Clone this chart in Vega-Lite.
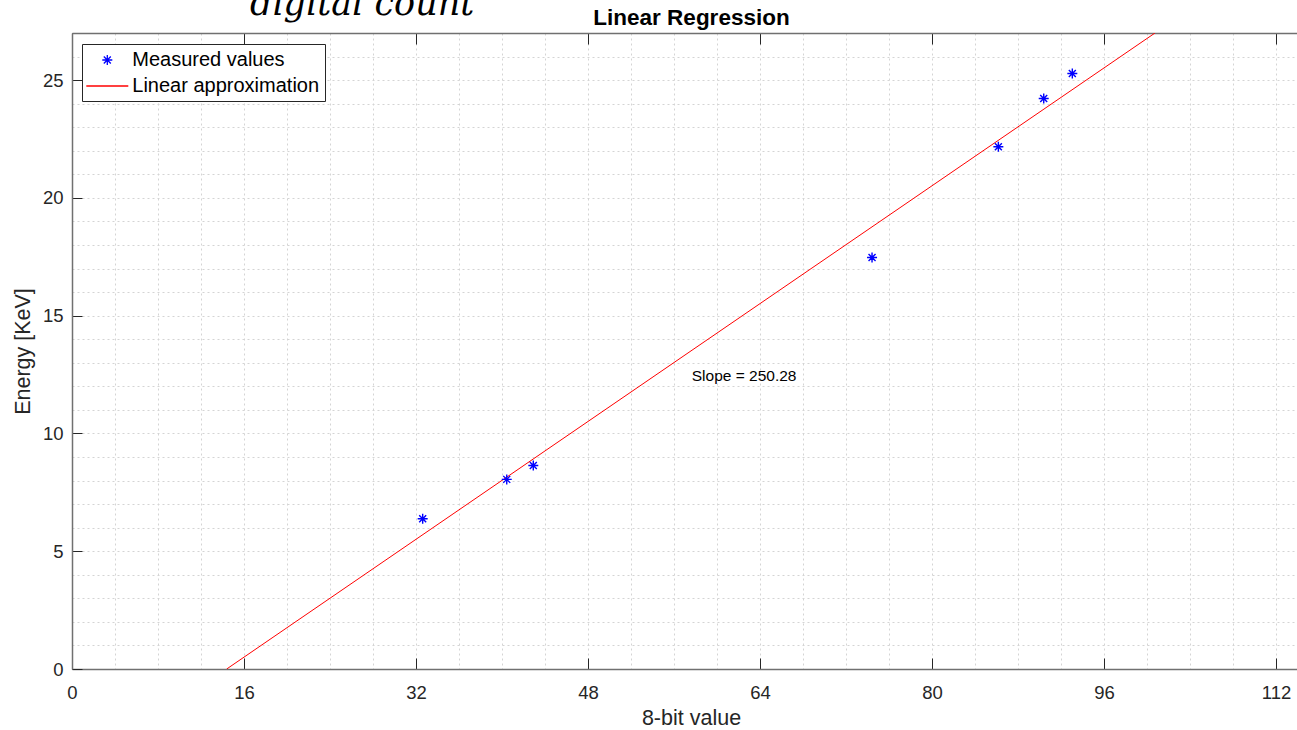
{
  "$schema": "https://vega.github.io/schema/vega-lite/v6.json",
  "width": 1225,
  "height": 636,
  "autosize": {"type": "none"},
  "padding": {"left": 72, "top": 33, "right": 0, "bottom": 61},
  "background": "white",
  "datasets": {
    "measured": [
      {"bits": 32.62, "energy": 6.38, "series": "Measured values"},
      {"bits": 40.44, "energy": 8.05, "series": "Measured values"},
      {"bits": 42.91, "energy": 8.64, "series": "Measured values"},
      {"bits": 74.42, "energy": 17.47, "series": "Measured values"},
      {"bits": 86.17, "energy": 22.17, "series": "Measured values"},
      {"bits": 90.39, "energy": 24.22, "series": "Measured values"},
      {"bits": 93.05, "energy": 25.28, "series": "Measured values"}
    ],
    "fit": [
      {"bits": 14.39, "energy": 0, "series": "Linear approximation"},
      {"bits": 100.74, "energy": 27, "series": "Linear approximation"}
    ],
    "annotation": [{"bits": 57.65, "energy": 12.23, "text": "Slope = 250.28"}],
    "header": [{"bits": 16.56, "energy": 27.77, "text": "digital count"}]
  },
  "encoding": {
    "y": {
      "field": "energy", "type": "quantitative",
      "scale": {"domain": [0, 27], "nice": false, "zero": false},
      "axis": {
        "orient": "left",
        "title": "Energy [KeV]",
        "values": [0,1,2,3,4,5,6,7,8,9,10,11,12,13,14,15,16,17,18,19,20,21,22,23,24,25,26,27],
        "labelExpr": "datum.value % 5 === 0 ? datum.label : ''",
        "labelOverlap": false,
        "labelFlush": false,
        "labelFontSize": 18.5,
        "labelColor": "#262626",
        "labelFont": "Liberation Sans",
        "labelPadding": 19,
        "tickSize": -10,
        "tickWidth": 1,
        "tickColor": {"condition": {"test": "datum.value % 5 === 0", "value": "#262626"}, "value": "transparent"},
        "grid": true,
        "gridColor": "#d4d4d4",
        "gridDash": [2, 3],
        "gridWidth": 1,
        "domainColor": "#707070",
        "domainWidth": 1.5,
        "titleFontSize": 21.5,
        "titleFontWeight": "normal",
        "titleFont": "Liberation Sans",
        "titleColor": "#262626",
        "titlePadding": 8
      }
    }
  },
  "layer": [
    {
      "data": {"name": "fit"},
      "mark": {"type": "line", "strokeWidth": 1, "clip": true},
      "encoding": {
        "x": {
          "field": "bits", "type": "quantitative",
          "scale": {"domain": [0, 113.95], "nice": false, "zero": false},
          "axis": {
            "orient": "bottom",
            "title": "8-bit value",
            "values": [0,4,8,12,16,20,24,28,32,36,40,44,48,52,56,60,64,68,72,76,80,84,88,92,96,100,104,108,112],
            "labelExpr": "datum.value % 16 === 0 ? datum.label : ''",
            "labelOverlap": false,
            "labelFlush": false,
            "labelFontSize": 18.5,
            "labelColor": "#262626",
            "labelFont": "Liberation Sans",
            "labelPadding": 25,
            "tickSize": -11,
            "tickWidth": 1,
            "tickColor": {"condition": {"test": "datum.value % 16 === 0", "value": "#262626"}, "value": "transparent"},
            "grid": true,
            "gridColor": "#d4d4d4",
            "gridDash": [2, 3],
            "gridWidth": 1,
            "domainColor": "#707070",
            "domainWidth": 1.5,
            "titleFontSize": 21.5,
            "titleFontWeight": "normal",
            "titleFont": "Liberation Sans",
            "titleColor": "#262626",
            "titlePadding": 6,
            "titleX": 619
          }
        },
        "color": {
          "field": "series", "type": "nominal",
          "scale": {"domain": ["Measured values", "Linear approximation"], "range": ["#0000ff", "#ff0000"]},
          "legend": {
            "title": null,
            "orient": "none",
            "legendX": 10,
            "legendY": 11,
            "strokeColor": "#262626",
            "fillColor": "white",
            "padding": 5,
            "labelFontSize": 20,
            "labelLimit": 400,
            "labelColor": "#000000",
            "labelFont": "Liberation Sans",
            "symbolSize": 400,
            "symbolStrokeWidth": 1.3,
            "symbolOffset": 9.3,
            "labelOffset": 14,
            "rowPadding": 5,
            "cornerRadius": 0
          }
        }
      }
    },
    {
      "data": {"name": "measured"},
      "mark": {"type": "point", "filled": false, "size": 400, "strokeWidth": 1.4, "opacity": 1},
      "encoding": {
        "x": {
          "field": "bits", "type": "quantitative",
          "axis": {
            "orient": "top",
            "title": "Linear Regression",
            "titleFontSize": 22.5,
            "titleFontWeight": "bold",
            "titleFont": "Liberation Sans",
            "titleColor": "#000000",
            "titleBaseline": "alphabetic",
            "titleX": 619,
            "titleY": -9,
            "values": [0,16,32,48,64,80,96,112],
            "labels": false,
            "grid": false,
            "tickSize": -11,
            "tickWidth": 1,
            "tickColor": "#262626",
            "domainColor": "#707070",
            "domainWidth": 1.5
          }
        },
        "color": {"field": "series", "type": "nominal"},
        "shape": {
          "field": "series", "type": "nominal",
          "scale": {
            "domain": ["Measured values", "Linear approximation"],
            "range": [
              "M-0.5,0L0.5,0M0,-0.5L0,0.5M-0.35,-0.35L0.35,0.35M-0.35,0.35L0.35,-0.35",
              "M-2.1,0L2.1,0"
            ]
          },
          "legend": {
            "title": null,
            "orient": "none",
            "legendX": 10,
            "legendY": 11,
            "strokeColor": "#262626",
            "fillColor": "white",
            "padding": 5,
            "labelFontSize": 20,
            "labelLimit": 400,
            "labelColor": "#000000",
            "labelFont": "Liberation Sans",
            "symbolSize": 400,
            "symbolStrokeWidth": 1.3,
            "symbolOffset": 9.3,
            "labelOffset": 14,
            "rowPadding": 5,
            "cornerRadius": 0
          }
        }
      }
    },
    {
      "data": {"name": "annotation"},
      "mark": {"type": "text", "align": "left", "baseline": "alphabetic", "fontSize": 15.5, "font": "Liberation Sans", "color": "#000000"},
      "encoding": {
        "x": {"field": "bits", "type": "quantitative", "axis": null},
        "text": {"field": "text"}
      }
    },
    {
      "data": {"name": "header"},
      "mark": {"type": "text", "align": "left", "baseline": "alphabetic", "fontSize": 35, "font": "DejaVu Serif", "fontStyle": "italic", "color": "#000000"},
      "encoding": {
        "x": {"field": "bits", "type": "quantitative", "axis": null},
        "text": {"field": "text"}
      }
    }
  ],
  "resolve": {"axis": {"x": "independent"}},
  "config": {"view": {"stroke": "transparent"}, "font": "Liberation Sans"}
}
